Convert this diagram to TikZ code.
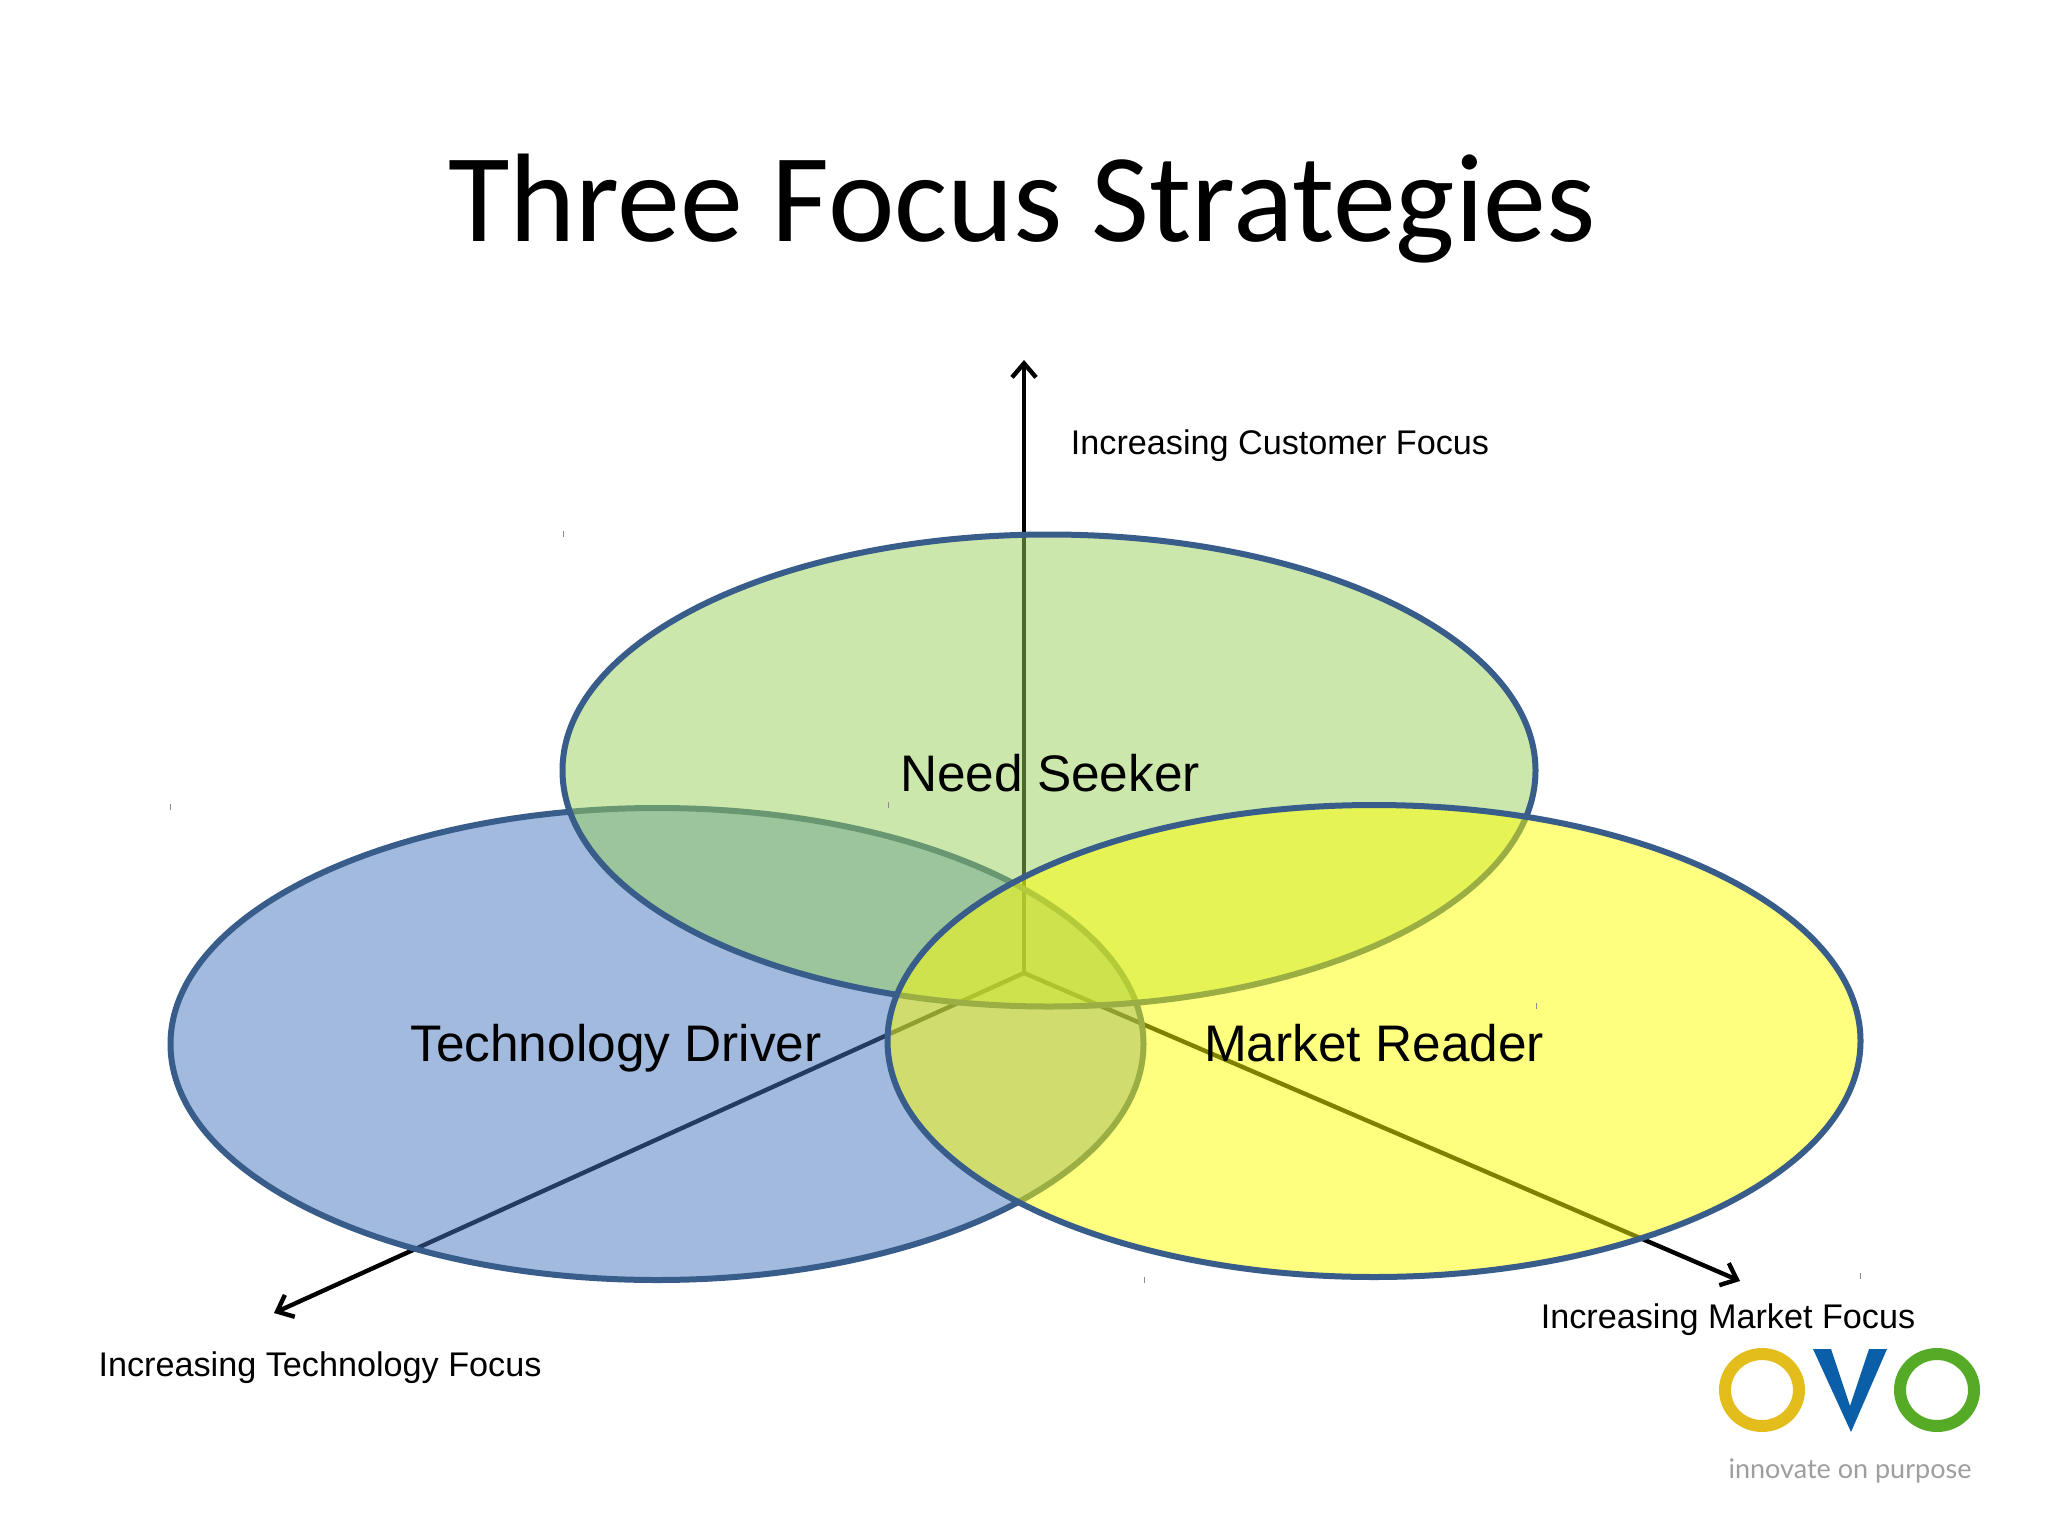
\documentclass[tikz,border=0pt]{standalone}
\usepackage{fontspec}
\setmainfont{Liberation Sans}
\newfontfamily\titlefont{Carlito}
\newfontfamily\logofont{Lato}
\usetikzlibrary{shapes.geometric,arrows.meta}
\definecolor{rimblue}{HTML}{385D8A}
\definecolor{fillblue}{HTML}{4577BF}
\definecolor{fillgreen}{HTML}{99D159}
\definecolor{fillyellow}{HTML}{FFFF00}
\definecolor{logoyellow}{HTML}{E3BD1B}
\definecolor{logoblue}{HTML}{0B5EA8}
\definecolor{logogreen}{HTML}{55AB26}
\tikzset{
  x=1pt,y=-1pt,
  venn/.style={ellipse,draw=rimblue,line width=6pt,fill opacity=.5,draw opacity=1,inner sep=0pt,outer sep=0pt,minimum width=973pt,minimum height=472pt},
  axisline/.style={draw=black,line width=4.4pt,-{Straight Barb[length=14pt,width=24pt,line width=4.4pt]}},
  axislabel/.style={anchor=base,inner sep=0pt,font=\fontsize{34.2}{40}\selectfont},
  circlelabel/.style={anchor=base,inner sep=0pt,font=\fontsize{51.4}{60}\selectfont},
  tick/.style={draw=black!45,line width=.8pt},
  logoring/.style={ellipse,draw,line width=12pt,fill=none,inner sep=0pt,minimum width=74pt,minimum height=72pt}
}
\begin{document}
\begin{tikzpicture}
\useasboundingbox[fill=white] (0,0) rectangle (2048,1536);
\node[anchor=base,inner sep=0pt,font=\titlefont\fontsize{126}{140}\selectfont] (title) at (1022,241) {Three Focus Strategies};
\coordinate (origin) at (1024,973);
\coordinate (tipup) at (1024,360);
\coordinate (tiptech) at (274,1313);
\coordinate (tipmarket) at (1740,1281);
\draw[axisline] (origin) -- (tipup);
\draw[axisline] (origin) -- (tiptech);
\draw[axisline] (origin) -- (tipmarket);
\node[venn,fill=fillblue] (blue) at (657,1044) {};
\node[venn,fill=fillgreen] (green) at (1049,770.5) {};
\node[venn,fill=fillyellow] (yellow) at (1374,1041) {};
\node[circlelabel] (need) at (1050,791) {Need Seeker};
\node[circlelabel] (tech) at (616,1061) {Technology Driver};
\node[circlelabel] (market) at (1374,1061) {Market Reader};
\node[axislabel] (lcust) at (1280,454) {Increasing Customer Focus};
\node[axislabel] (ltech) at (320,1376) {Increasing Technology Focus};
\node[axislabel] (lmarket) at (1728,1328) {Increasing Market Focus};
\foreach \tx/\ty in {563/534,170/807,888/805,1144/1280,1860/1276,1536/1006}
  \draw[tick] (\tx,\ty-3) -- (\tx,\ty+3);
\node[logoring,draw=logoyellow] (o1) at (1762,1390) {};
\node[logoring,draw=logogreen] (o2) at (1937,1390) {};
\fill[logoblue] (1813,1349) -- (1831,1349) -- (1850,1406) -- (1869,1349) -- (1887,1349) -- (1851,1432) -- cycle;
\node[anchor=base,inner sep=0pt,text=black!38,font=\logofont\fontsize{27}{32}\selectfont] (slogan) at (1850,1478) {innovate on purpose};
\end{tikzpicture}
\end{document}
